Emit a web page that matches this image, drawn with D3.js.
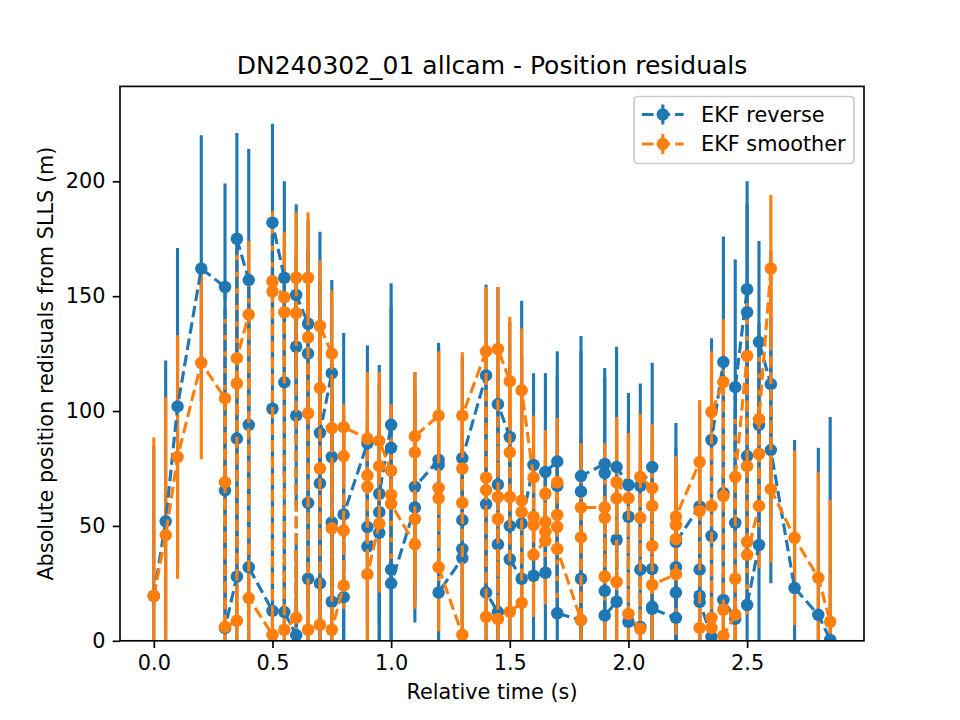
<!DOCTYPE html>
<html>
<head>
<meta charset="utf-8">
<script src="https://cdnjs.cloudflare.com/ajax/libs/d3/7.8.5/d3.min.js"></script>
<style>
  body { margin: 0; background: #fff; }
  text { font-family: "DejaVu Sans", sans-serif; fill: #000; }
  .tick text { font-size: 20.8px; }
  .domain, .tick line { stroke: #000; stroke-width: 1.67px; }
</style>
</head>
<body>
<svg width="960" height="720"></svg>
<script>
// relative time of each group of residuals (s)
var times = [0, 0.05, 0.1, 0.2, 0.3, 0.35, 0.4, 0.5, 0.55, 0.6, 0.65, 0.7, 0.75, 0.8, 0.9, 0.95, 1.0,
  1.1, 1.2, 1.3, 1.4, 1.45, 1.5, 1.55, 1.6, 1.65, 1.7, 1.8, 1.9, 1.95, 2.0, 2.05, 2.1, 2.2,
  2.3, 2.35, 2.4, 2.45, 2.5, 2.55, 2.6, 2.7, 2.8, 2.85];

// EKF reverse residuals (m), one list per time, in plotting order
var reverseVals = [[19.5], [52], [102], [162], [154, 65.5, 5.5], [28, 88, 175], [157, 94, 32],
  [13, 101, 182], [158, 112.5, 12.5], [2.5, 98, 128, 150.5], [138, 125, 60, 27], [25, 68.5, 90.5],
  [116.5, 80, 51.5, 17], [19, 55], [86, 49.5, 41], [47, 56, 64], [94, 84, 31, 25], [58, 67],
  [78.7, 76.5, 21], [36, 40, 52.5, 79.5], [115.5, 59.5, 21], [12.5, 42, 68, 103], [88.7, 50, 35.5],
  [27, 51], [76.5, 28.3], [29.6, 73.5], [78, 67.4, 12], [9, 27, 65, 71.7], [77, 73, 21.7, 11],
  [17, 44, 75.6], [67.8, 54, 8.3], [6, 31, 67.4], [75.6, 31.3, 14.8, 13.9], [10, 21, 32, 43],
  [58.5, 31, 19.6, 17], [1.7, 45.6, 87.4], [121.3, 64.3, 17.8], [9.6, 51.3, 110.4],
  [153, 143, 80.4, 15.6], [41.7, 94, 130], [111.7, 83], [23], [11.3], [0.4]];
var reverseErr = [65, 70, 69, 58, 45, 46, 57, 43, 42, 39.5, 45, 87.5, 40.5, 79, 42.6, 56, 61.6, 50,
  51, 44, 39.5, 51, 50, 97, 40, 43, 48, 61, 41.7, 52.4, 40, 44.6, 45.4, 51.8, 44, 44.3, 54.7, 55.6,
  47, 44, 58, 64.4, 72.7, 97];

// EKF smoother residuals (m)
var smootherVals = [[19.5], [46], [80], [121], [105.5, 69, 6], [8.7, 112, 123], [142, 18.6],
  [2.6, 152, 156.5], [149.5, 143, 4.8], [10, 142.6, 158], [158, 132, 99, 4.8], [7, 75, 110, 137],
  [125, 92.6, 49, 4.8], [24, 48, 80.4, 93], [88, 72, 67, 29], [51, 76, 87], [74, 63.5, 59.6],
  [42, 53, 82, 89], [98, 66.5, 62, 32], [2.6, 60, 75, 98], [126, 71, 65.6, 10.4],
  [9.5, 53, 62.6, 127], [113, 82, 62.6, 12.6], [16.5, 56, 61, 109], [71, 54, 50.4, 37.4],
  [43.5, 47.4, 51.7, 64], [69, 54.8, 49.6, 40], [9, 45, 58], [58, 53.5, 28], [25.6, 62, 69],
  [62, 11.7], [5.2, 53.5, 71.3], [66.5, 58.7, 41.3, 24.3], [29, 44.3, 50.4, 54], [77.8, 56.5, 5.6],
  [5.6, 10, 58.7, 99.6], [112.6, 63, 13.5, 2.2], [11.3, 27, 71.3], [124, 76, 43, 37.4],
  [58.7, 81.3, 96.5], [162, 66], [44.8], [27.4], [8.3]];
var smootherErr = [69, 60, 53, 42, 34.5, 51, 32, 30.5, 28.5, 28.5, 28.5, 28.6, 27.6, 10, 29, 30, 29,
  28, 28, 27.6, 28, 27, 28, 27, 27, 27.7, 28, 28, 28, 28.4, 28.4, 27.4, 27.8, 26.4, 27, 26.4, 27.4,
  27, 26, 27, 32, 38, 46, 53];

var xTicks = [0, 0.5, 1.0, 1.5, 2.0, 2.5];
var yTicks = [0, 50, 100, 150, 200];

var series = [
  {name: "EKF reverse", color: "#1f77b4", vals: reverseVals, err: reverseErr},
  {name: "EKF smoother", color: "#ff7f0e", vals: smootherVals, err: smootherErr}
];

var svg = d3.select("svg");
var pLeft = 120, pRight = 864, pTop = 86.4, pBottom = 640.8;

var x = d3.scaleLinear().domain([-0.1425, 2.9925]).range([pLeft, pRight]);
var y = d3.scaleLinear().domain([0, 241.3]).range([pBottom, pTop]);

// flatten to points
series.forEach(function(s) {
  s.pts = [];
  times.forEach(function(t, i) {
    s.vals[i].forEach(function(v) { s.pts.push({t: t, v: v, e: s.err[i]}); });
  });
});

svg.append("defs").append("clipPath").attr("id", "clip")
  .append("rect").attr("x", pLeft).attr("y", pTop)
  .attr("width", pRight - pLeft).attr("height", pBottom - pTop);

var plot = svg.append("g").attr("clip-path", "url(#clip)");

// error bars of both series first (drawn under the lines)
series.forEach(function(s) {
  plot.append("g").selectAll("line").data(s.pts).enter().append("line")
    .attr("x1", function(d) { return x(d.t); })
    .attr("x2", function(d) { return x(d.t); })
    .attr("y1", function(d) { return y(d.v - d.e); })
    .attr("y2", function(d) { return y(d.v + d.e); })
    .attr("stroke", s.color)
    .attr("stroke-width", 3.125);
});

var line = d3.line().x(function(d) { return x(d.t); }).y(function(d) { return y(d.v); });

series.forEach(function(s) {
  plot.append("path").datum(s.pts)
    .attr("d", line)
    .attr("fill", "none")
    .attr("stroke", s.color)
    .attr("stroke-width", 3.125)
    .attr("stroke-dasharray", "11.56,5");
  plot.append("g").selectAll("circle").data(s.pts).enter().append("circle")
    .attr("cx", function(d) { return x(d.t); })
    .attr("cy", function(d) { return y(d.v); })
    .attr("r", 6.25)
    .attr("fill", s.color);
});

// axes
svg.append("g").attr("transform", "translate(0," + pBottom + ")")
  .call(d3.axisBottom(x).tickValues(xTicks).tickFormat(d3.format(".1f")).tickSizeOuter(0).tickSize(7.3).tickPadding(7.3))
  .call(function(g) { g.select(".domain").remove(); });
svg.append("g").attr("transform", "translate(" + pLeft + ",0)")
  .call(d3.axisLeft(y).tickValues(yTicks).tickFormat(d3.format("d")).tickSizeOuter(0).tickSize(7.3).tickPadding(7.3))
  .call(function(g) { g.select(".domain").remove(); });

svg.append("rect")
  .attr("x", pLeft).attr("y", pTop)
  .attr("width", pRight - pLeft).attr("height", pBottom - pTop)
  .attr("fill", "none").attr("stroke", "#000").attr("stroke-width", 1.67);

// labels
svg.append("text").attr("x", (pLeft + pRight) / 2).attr("y", 74)
  .attr("text-anchor", "middle").style("font-size", "25px")
  .text("DN240302_01 allcam - Position residuals");
svg.append("text").attr("x", (pLeft + pRight) / 2).attr("y", 699)
  .attr("text-anchor", "middle").style("font-size", "20.8px")
  .text("Relative time (s)");
svg.append("text")
  .attr("transform", "translate(53," + ((pTop + pBottom) / 2) + ") rotate(-90)")
  .attr("text-anchor", "middle").style("font-size", "20.8px")
  .text("Absolute position redisuals from SLLS (m)");

// legend
var lg = svg.append("g");
lg.append("rect").attr("x", 634).attr("y", 96.5).attr("width", 220).attr("height", 67)
  .attr("rx", 4).attr("fill", "#fff").attr("fill-opacity", 0.8)
  .attr("stroke", "#cccccc").attr("stroke-width", 1.67);
series.forEach(function(s, i) {
  var cy = 114.5 + i * 29.5;
  var g = lg.append("g");
  g.append("line").attr("x1", 642).attr("x2", 683.6).attr("y1", cy).attr("y2", cy)
    .attr("stroke", s.color).attr("stroke-width", 3.125).attr("stroke-dasharray", "11.56,5");
  g.append("line").attr("x1", 662.8).attr("x2", 662.8).attr("y1", cy - 10).attr("y2", cy + 10)
    .attr("stroke", s.color).attr("stroke-width", 3.125);
  g.append("circle").attr("cx", 662.8).attr("cy", cy).attr("r", 6.25).attr("fill", s.color);
  g.append("text").attr("x", 701).attr("y", cy).attr("dy", "0.36em")
    .style("font-size", "20.8px").text(s.name);
});
</script>
</body>
</html>
